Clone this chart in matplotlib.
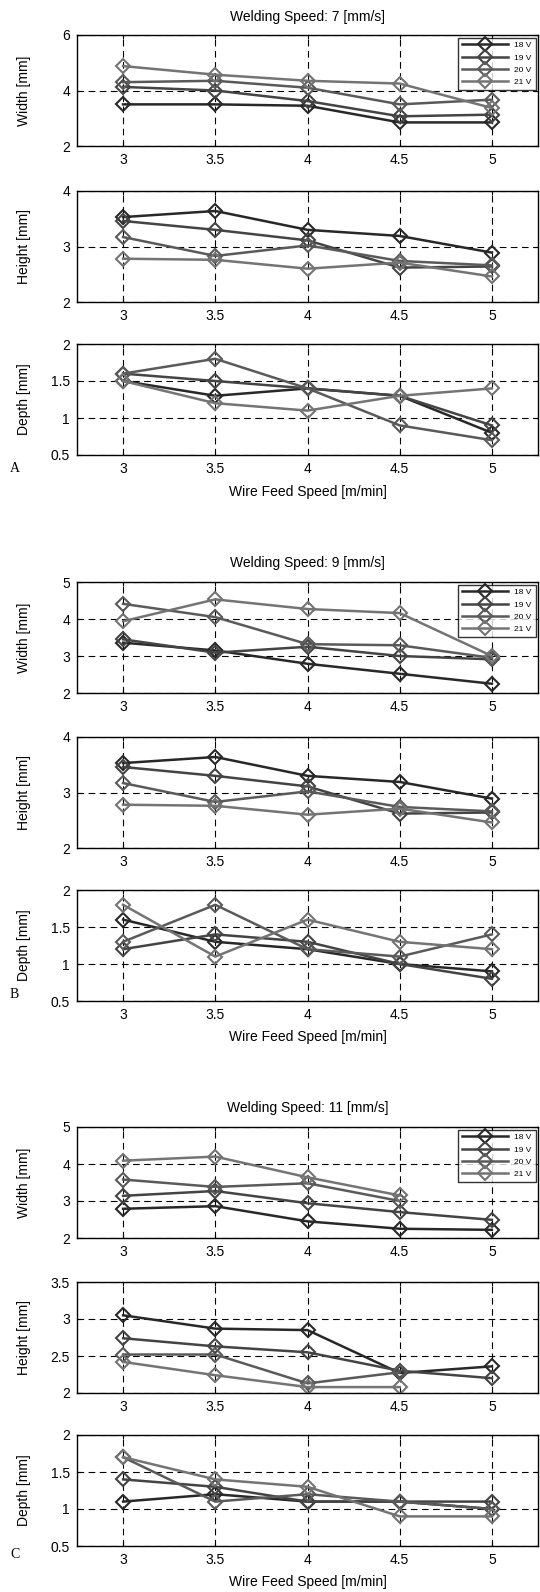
import numpy as np
import matplotlib
matplotlib.use("Agg")
import matplotlib.pyplot as plt

plt.rcParams['font.family'] = ['Liberation Sans', 'DejaVu Sans']

wire_feed = [3, 3.5, 4, 4.5, 5]
voltages = ['18 V', '19 V', '20 V', '21 V']
colors = ['#282828', '#444444', '#5a5a5a', '#747474']
nan = np.nan

# Welding speed 7 mm/s
A_width = [[3.5, 3.5, 3.45, 2.85, 2.85],
           [4.13, 4.0, 3.62, 3.07, 3.13],
           [4.3, 4.35, 4.1, 3.5, 3.67],
           [4.88, 4.57, 4.35, 4.25, 3.37]]
A_height = [[3.53, 3.64, 3.3, 3.19, 2.89],
            [3.46, 3.3, 3.11, 2.62, 2.64],
            [3.17, 2.83, 3.02, 2.74, 2.66],
            [2.78, 2.76, 2.6, 2.71, 2.46]]
A_depth = [[1.5, 1.3, 1.4, 1.3, 0.8],
           [1.6, 1.5, 1.4, 1.3, 0.9],
           [1.6, 1.8, 1.4, 0.9, 0.7],
           [1.5, 1.2, 1.1, 1.3, 1.4]]

# Welding speed 9 mm/s
B_width = [[3.36, 3.15, 2.79, 2.52, 2.25],
           [3.45, 3.09, 3.25, 3.0, 2.91],
           [4.41, 4.05, 3.32, 3.29, 2.95],
           [3.94, 4.53, 4.27, 4.16, 3.0]]
B_height = [[3.53, 3.64, 3.3, 3.19, 2.89],
            [3.46, 3.3, 3.11, 2.62, 2.64],
            [3.17, 2.83, 3.02, 2.74, 2.66],
            [2.78, 2.76, 2.6, 2.71, 2.46]]
B_depth = [[1.6, 1.3, 1.2, 1.0, 0.9],
           [1.2, 1.4, 1.3, 1.0, 0.8],
           [1.3, 1.8, 1.2, 1.1, 1.4],
           [1.8, 1.1, 1.6, 1.3, 1.2]]

# Welding speed 11 mm/s
C_width = [[2.79, 2.86, 2.45, 2.25, 2.22],
           [3.14, 3.27, 2.94, 2.7, 2.49],
           [3.58, 3.38, 3.48, 3.0, nan],
           [4.09, 4.2, 3.64, 3.15, nan]]
C_height = [[3.05, 2.87, 2.85, 2.27, 2.36],
            [2.74, 2.63, 2.55, 2.3, 2.2],
            [2.52, 2.52, 2.13, 2.28, nan],
            [2.42, 2.24, 2.08, 2.08, nan]]
C_depth = [[1.1, 1.2, 1.1, 1.1, 1.0],
           [1.4, 1.3, 1.1, 1.1, 1.1],
           [1.7, 1.1, 1.2, 1.1, 1.0],
           [1.7, 1.4, 1.3, 0.9, 0.9]]

xticks = [3, 3.5, 4, 4.5, 5]
xticklabels = ['3', '3.5', '4', '4.5', '5']

groups = [
    dict(title='Welding Speed: 7 [mm/s]', label='A',
         data=[A_width, A_height, A_depth],
         ylims=[(2, 6), (2, 4), (0.5, 2)],
         yticks=[[2, 4, 6], [2, 3, 4], [0.5, 1, 1.5, 2]],
         yticklabels=[['2', '4', '6'], ['2', '3', '4'], ['0.5', '1', '1.5', '2']],
         tops=[35, 191, 344], title_y=17, xlabel_y=492, label_y=469),
    dict(title='Welding Speed: 9 [mm/s]', label='B',
         data=[B_width, B_height, B_depth],
         ylims=[(2, 5), (2, 4), (0.5, 2)],
         yticks=[[2, 3, 4, 5], [2, 3, 4], [0.5, 1, 1.5, 2]],
         yticklabels=[['2', '3', '4', '5'], ['2', '3', '4'], ['0.5', '1', '1.5', '2']],
         tops=[582, 737, 890], title_y=563, xlabel_y=1037, label_y=995),
    dict(title='Welding Speed: 11 [mm/s]', label='C',
         data=[C_width, C_height, C_depth],
         ylims=[(2, 5), (2, 3.5), (0.5, 2)],
         yticks=[[2, 3, 4, 5], [2, 2.5, 3, 3.5], [0.5, 1, 1.5, 2]],
         yticklabels=[['2', '3', '4', '5'], ['2', '2.5', '3', '3.5'], ['0.5', '1', '1.5', '2']],
         tops=[1127, 1282, 1435], title_y=1108, xlabel_y=1582, label_y=1554),
]
ylabels = ['Width [mm]', 'Height [mm]', 'Depth [mm]']

W, H = 540, 1592
fig = plt.figure(figsize=(W / 100, H / 100), dpi=100)
ax_left, ax_right, ax_h = 77, 538, 111

for g in groups:
    for k in range(3):
        top = g['tops'][k]
        ax = fig.add_axes([ax_left / W, 1 - (top + ax_h) / H,
                           (ax_right - ax_left) / W, ax_h / H])
        series = g['data'][k]
        for i, vals in enumerate(series):
            ax.plot(wire_feed, vals, color=colors[i], lw=1.8, marker='D',
                    ms=7.5, mfc='none', mec=colors[i], mew=1.5,
                    label=voltages[i])
        ax.set_xlim(2.75, 5.25)
        ax.set_ylim(*g['ylims'][k])
        ax.set_xticks(xticks)
        ax.set_xticklabels(xticklabels)
        ax.set_yticks(g['yticks'][k])
        ax.set_yticklabels(g['yticklabels'][k])
        ax.tick_params(direction='in', length=3, width=0.8, labelsize=10,
                       top=True, right=True, pad=5, colors='black')
        ax.grid(True, color='black', linestyle=(0, (6, 4)), linewidth=0.8)
        for s in ax.spines.values():
            s.set_linewidth(1.0)
            s.set_color('black')
        ax.set_ylabel(ylabels[k], fontsize=10)
        ax.yaxis.set_label_coords(-0.1, 0.5)
        if k == 0:
            leg = ax.legend(loc='upper right', fontsize=6, handlelength=5.5,
                            borderaxespad=0.3, frameon=True, fancybox=False,
                            labelspacing=0.55, handletextpad=0.8,
                            borderpad=0.45, markerscale=1.0)
            leg.get_frame().set_edgecolor('black')
            leg.get_frame().set_linewidth(1.0)
    fig.text(0.5 * (ax_left + ax_right) / W, 1 - g['title_y'] / H, g['title'],
             ha='center', va='center', fontsize=10)
    fig.text(0.5 * (ax_left + ax_right) / W, 1 - g['xlabel_y'] / H,
             'Wire Feed Speed [m/min]', ha='center', va='center', fontsize=10)
    fig.text(10 / W, 1 - g['label_y'] / H, g['label'], ha='left',
             va='center', fontsize=10, family=['Liberation Serif', 'DejaVu Serif'])

fig.savefig('out.png', dpi=100)
